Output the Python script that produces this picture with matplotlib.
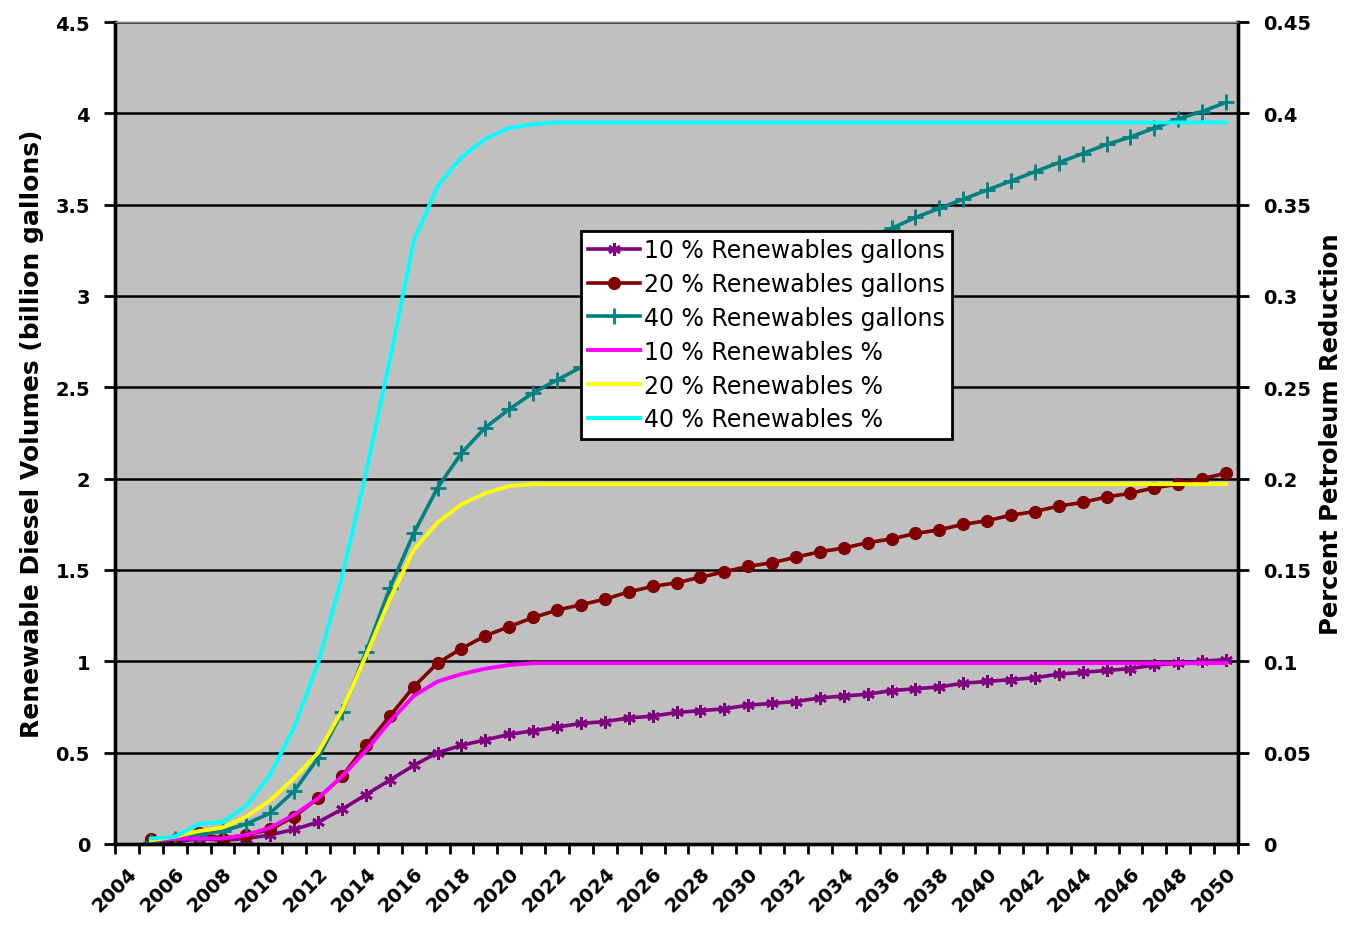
"""Renewable diesel volumes vs. percent petroleum reduction, 2004-2050.

Left axis: gallons for the 10/20/40 % renewables cases.
Right axis: fractional petroleum reduction for the same cases.
"""

from __future__ import annotations

import matplotlib

matplotlib.use("Agg")
import matplotlib.pyplot as plt
import numpy as np

nan = np.nan

YEARS = list(range(2004, 2051))

# billion gallons (left axis)
GAL_10 = [nan, 0.02, 0.01, 0.03, 0.02, 0.03, 0.05, 0.08, 0.12, 0.19, 0.27, 0.35, 0.43,
          0.50, 0.54, 0.57, 0.60, 0.62, 0.64, 0.66, 0.67, 0.69, 0.70, 0.72, 0.73, 0.74,
          0.76, 0.77, 0.78, 0.80, 0.81, 0.82, 0.84, 0.85, 0.86, 0.88, 0.89, 0.90, 0.91,
          0.93, 0.94, 0.95, 0.96, 0.98, 0.99, 1.00, 1.01]
GAL_20 = [nan, 0.03, 0.02, 0.06, 0.03, 0.05, 0.08, 0.15, 0.25, 0.37, 0.54, 0.70, 0.86,
          0.99, 1.07, 1.14, 1.19, 1.24, 1.28, 1.31, 1.34, 1.38, 1.41, 1.43, 1.46, 1.49,
          1.52, 1.54, 1.57, 1.60, 1.62, 1.65, 1.67, 1.70, 1.72, 1.75, 1.77, 1.80, 1.82,
          1.85, 1.87, 1.90, 1.92, 1.95, 1.97, 2.00, 2.03]
GAL_40 = [nan, 0.01, 0.03, 0.05, 0.07, 0.11, 0.17, 0.29, 0.47, 0.72, 1.05, 1.40, 1.70,
          1.95, 2.14, 2.28, 2.38, 2.47, 2.54, 2.61, 2.67, 2.73, 2.79, 2.85, 2.91, 2.97,
          3.03, 3.09, 3.15, 3.21, 3.26, 3.32, 3.37, 3.43, 3.48, 3.53, 3.58, 3.63, 3.68,
          3.73, 3.78, 3.83, 3.87, 3.92, 3.97, 4.01, 4.06]

# fraction of petroleum displaced (right axis)
PCT_10 = [nan, 0.002, 0.003, 0.003, 0.003, 0.005, 0.009, 0.016, 0.025, 0.037, 0.051,
          0.067, 0.081, 0.089, 0.093, 0.096, 0.098, 0.099] + [0.099] * 29
PCT_20 = [nan, 0.002, 0.004, 0.007, 0.009, 0.015, 0.024, 0.036, 0.050, 0.073, 0.103,
          0.134, 0.161, 0.176, 0.186, 0.192, 0.196, 0.197] + [0.197] * 29
PCT_40 = [nan, 0.003, 0.004, 0.011, 0.012, 0.021, 0.038, 0.064, 0.099, 0.146, 0.203,
          0.265, 0.330, 0.360, 0.376, 0.386, 0.392, 0.394] + [0.395] * 29

GAL_LABELS = ["10 % Renewables gallons", "20 % Renewables gallons", "40 % Renewables gallons"]
PCT_LABELS = ["10 % Renewables %", "20 % Renewables %", "40 % Renewables %"]

LEFT_TICKS = [0, 0.5, 1, 1.5, 2, 2.5, 3, 3.5, 4, 4.5]
LEFT_TICK_LABELS = ["0", "0.5", "1", "1.5", "2", "2.5", "3", "3.5", "4", "4.5"]
RIGHT_TICKS = [0, 0.05, 0.1, 0.15, 0.2, 0.25, 0.3, 0.35, 0.4, 0.45]
RIGHT_TICK_LABELS = ["0", "0.05", "0.1", "0.15", "0.2", "0.25", "0.3", "0.35", "0.4", "0.45"]


def _style_axis(ax) -> None:
    for side in ("left", "right", "bottom"):
        ax.spines[side].set_linewidth(2.4)
        ax.spines[side].set_color("black")
    ax.spines["top"].set_linewidth(1.0)
    ax.spines["top"].set_color("#808080")
    ax.tick_params(axis="y", direction="out", length=8, width=2, pad=10,
                   labelsize=14)
    for lab in ax.get_yticklabels():
        lab.set_fontweight("bold")


def main() -> None:
    plt.rcParams["font.family"] = ["DejaVu Sans"]
    fig = plt.figure(figsize=(13.52, 9.28), dpi=100)
    ax = fig.add_axes([115 / 1352, 83 / 928, 1123 / 1352, 822 / 928])
    ax.set_facecolor("#C0C0C0")
    x = np.arange(len(YEARS))

    gal_styles = [
        ("#800080", dict(marker=(6, 2, 0), markersize=9, markeredgewidth=2)),
        ("#800000", dict(marker="o", markersize=8.5)),
        ("#008080", dict(marker="+", markersize=11, markeredgewidth=2)),
    ]
    handles = []
    for vals, label, (color, mk) in zip([GAL_10, GAL_20, GAL_40], GAL_LABELS, gal_styles):
        (h,) = ax.plot(x, vals, color=color, linewidth=2.6, label=label,
                       markerfacecolor=color, markeredgecolor=color, **mk)
        handles.append(h)

    ax.set_xlim(-0.5, len(YEARS) - 0.5)
    ax.set_ylim(0, 4.5)
    ax.set_yticks(LEFT_TICKS)
    ax.set_yticklabels(LEFT_TICK_LABELS)
    ax.grid(True, axis="y", color="black", linewidth=1.8)
    ax.set_axisbelow(True)

    # category boundaries carry the tick marks, labels sit at category centres
    ax.set_xticks(np.arange(-0.5, len(YEARS), 1))
    ax.set_xticklabels([])
    ax.tick_params(axis="x", which="major", direction="out", length=7, width=2)
    ax.set_xticks(x[::2], minor=True)
    ax.set_xticklabels([str(y) for y in YEARS[::2]], minor=True, rotation=45,
                       ha="right", va="top", rotation_mode="anchor",
                       fontsize=14, fontweight="bold")
    ax.tick_params(axis="x", which="minor", length=0, pad=14)
    _style_axis(ax)
    ax.set_ylabel("Renewable Diesel Volumes (billion gallons)", fontsize=18,
                  fontweight="bold", labelpad=8)

    ax2 = ax.twinx()
    pct_colors = ["#FF00FF", "#FFFF00", "#00FFFF"]
    for vals, label, color in zip([PCT_10, PCT_20, PCT_40], PCT_LABELS, pct_colors):
        (h,) = ax2.plot(x, vals, color=color, linewidth=2.8, label=label)
        handles.append(h)
    ax2.set_ylim(0, 0.45)
    ax2.set_yticks(RIGHT_TICKS)
    ax2.set_yticklabels(RIGHT_TICK_LABELS)
    _style_axis(ax2)
    ax2.set_ylabel("Percent Petroleum Reduction", fontsize=17.5, fontweight="bold",
                   rotation=90, labelpad=6)

    leg = ax2.legend(handles=handles, loc="upper left",
                     bbox_to_anchor=(0.415, 0.746), fontsize=17,
                     frameon=True, fancybox=False, framealpha=1,
                     edgecolor="black", handlelength=2.2, handletextpad=0.15,
                     labelspacing=0.42, borderpad=0.3, borderaxespad=0)
    leg.get_frame().set_linewidth(2)

    fig.savefig("out.png", dpi=100)
    plt.close(fig)


if __name__ == "__main__":
    main()
